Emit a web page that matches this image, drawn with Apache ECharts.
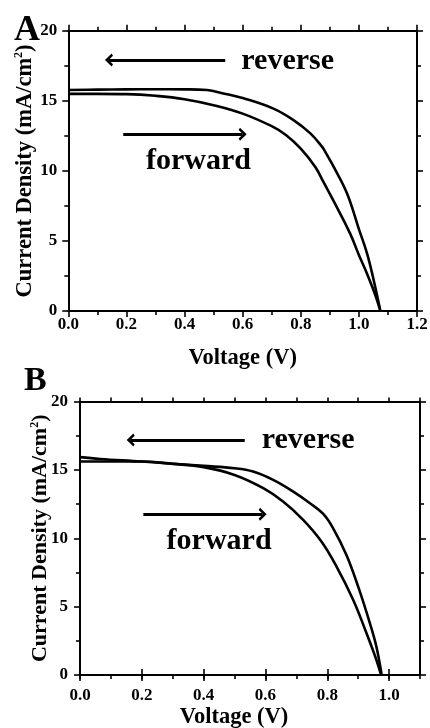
<!DOCTYPE html>
<html>
<head>
<meta charset="utf-8">
<script src="https://cdn.jsdelivr.net/npm/echarts@6/dist/echarts.min.js"></script>
<style>
html,body{margin:0;padding:0;background:#fff;}
#chart{width:430px;height:728px;}
</style>
</head>
<body>
<div id="chart"></div>
<script>
// ---------- Data ----------
const panelLetters = ['A', 'B'];
const xAxisTitle = 'Voltage (V)';
const yAxisTitle = 'Current Density (mA/cm{sup|2})';
const annotationTexts = ['reverse', 'forward'];

// Panel A
const A_rev_V = [0, 0.1, 0.2, 0.3, 0.4, 0.477, 0.534, 0.603, 0.704, 0.775, 0.833, 0.873, 0.884, 0.913, 0.959, 1.0, 1.028, 1.051, 1.074];
const A_rev_J = [15.77, 15.8, 15.82, 15.83, 15.82, 15.77, 15.53, 15.18, 14.46, 13.63, 12.68, 11.73, 11.37, 10.3, 8.4, 5.85, 4.12, 2.2, 0];
const A_fwd_V = [0, 0.1, 0.2, 0.3, 0.4, 0.5, 0.6, 0.7, 0.75, 0.8, 0.85, 0.878, 0.924, 0.97, 1.0, 1.028, 1.057, 1.074];
const A_fwd_J = [15.5, 15.5, 15.48, 15.36, 15.12, 14.69, 14.09, 13.19, 12.55, 11.59, 10.28, 9.21, 7.42, 5.52, 4.0, 2.66, 1.11, 0];
const A_xTicks = [0, 0.2, 0.4, 0.6, 0.8, 1.0, 1.2];
const A_yTicks = [0, 5, 10, 15, 20];
// annotation anchors [V, J]
const A_textPos = [[0.755, 17.81], [0.448, 10.67]];
const A_arrows = [[[0.54, 17.92], [0.14, 17.92]], [[0.189, 12.61], [0.600, 12.61]]];

// Panel B
const B_rev_V = [0, 0.065, 0.2, 0.4, 0.5, 0.56, 0.625, 0.69, 0.744, 0.787, 0.819, 0.862, 0.9, 0.938, 0.959, 0.976];
const B_rev_J = [15.93, 15.8, 15.61, 15.29, 15.12, 14.88, 14.27, 13.41, 12.56, 11.78, 10.73, 8.78, 6.46, 3.78, 2.07, 0];
const B_fwd_V = [0, 0.2, 0.3, 0.4, 0.5, 0.593, 0.657, 0.722, 0.781, 0.83, 0.884, 0.927, 0.959, 0.974];
const B_fwd_J = [15.61, 15.61, 15.44, 15.2, 14.63, 13.66, 12.68, 11.34, 9.76, 7.93, 5.49, 3.05, 1.1, 0];
const B_xTicks = [0, 0.2, 0.4, 0.6, 0.8, 1.0];
const B_yTicks = [0, 5, 10, 15, 20];
const B_textPos = [[0.738, 17.15], [0.45, 9.76]];
const B_arrows = [[[0.533, 17.18], [0.164, 17.18]], [[0.205, 11.75], [0.591, 11.75]]];

// ---------- Styling ----------
const FONT = '"Liberation Serif", "Times New Roman", serif';
const BLACK = '#000';
const chevron = 'path://M0,10 L10,0 L20,10 L16.5,12 L10,5.5 L3.5,12 Z';

function pairs(xs, ys) { return xs.map((x, i) => [x, ys[i]]); }

const axisLineStyle = { show: true, onZero: false, lineStyle: { color: BLACK, width: 2 } };
const tickStyle = { color: BLACK, width: 1.6 };
const labelStyle = { color: BLACK, fontFamily: FONT, fontWeight: 'bold', fontSize: 17 };
function nameStyle(size) {
  return {
    color: BLACK, fontFamily: FONT, fontWeight: 'bold', fontSize: size,
    rich: { sup: { fontSize: 12, fontFamily: FONT, fontWeight: 'bold', color: BLACK, verticalAlign: 'top', lineHeight: 12 } }
  };
}

function xFmt(v) {
  const k = Math.round(v * 10);
  return (Math.abs(v * 10 - k) < 1e-6 && k % 2 === 0) ? v.toFixed(1) : '';
}

const chart = echarts.init(document.getElementById('chart'), null, { renderer: 'canvas' });

const grids = [
  { left: 68.3, top: 30.8, width: 348.7, height: 280.2, containLabel: false, outerBoundsMode: 'none' },
  { left: 80, top: 401.5, width: 340, height: 273.5, containLabel: false, outerBoundsMode: 'none' }
];

const xAxes = [
  // Panel A bottom
  { gridIndex: 0, type: 'value', min: A_xTicks[0], max: A_xTicks[A_xTicks.length - 1], interval: 0.2, position: 'bottom',
    axisLine: axisLineStyle, splitLine: { show: false },
    axisTick: { show: true, inside: false, length: 6, lineStyle: tickStyle },
    minorTick: { show: true, splitNumber: 2, length: 4, lineStyle: tickStyle },
    axisLabel: Object.assign({ margin: 5, formatter: v => v.toFixed(1) }, labelStyle),
    name: xAxisTitle, nameLocation: 'middle', nameGap: 36, nameMoveOverlap: false, nameTextStyle: nameStyle(22.5) },
  // Panel A top
  { gridIndex: 0, type: 'value', min: A_xTicks[0], max: A_xTicks[A_xTicks.length - 1], interval: 0.2, position: 'top',
    axisLine: axisLineStyle, splitLine: { show: false },
    axisTick: { show: true, inside: false, length: 6, lineStyle: tickStyle },
    minorTick: { show: true, splitNumber: 2, length: 4, lineStyle: tickStyle },
    axisLabel: { show: false } },
  // Panel B bottom (minor ticks + line)
  { gridIndex: 1, type: 'value', min: 0, max: 1.1, interval: 0.1, position: 'bottom',
    axisLine: axisLineStyle, splitLine: { show: false },
    axisTick: { show: true, inside: false, length: 4, lineStyle: tickStyle },
    axisLabel: { show: false } },
  // Panel B bottom (major ticks + labels)
  { gridIndex: 1, type: 'value', min: 0, max: 1.1, interval: 0.2, position: 'bottom',
    axisLine: { show: false }, splitLine: { show: false },
    axisTick: { show: true, inside: false, length: 6, lineStyle: tickStyle, customValues: B_xTicks },
    axisLabel: Object.assign({ margin: 12, formatter: xFmt }, labelStyle),
    name: xAxisTitle, nameLocation: 'middle', nameGap: 31, nameMoveOverlap: false,
    nameTextStyle: Object.assign(nameStyle(22.5), { padding: [0, 32, 0, 0] }) },
  // Panel B top (minor)
  { gridIndex: 1, type: 'value', min: 0, max: 1.1, interval: 0.1, position: 'top',
    axisLine: axisLineStyle, splitLine: { show: false },
    axisTick: { show: true, inside: false, length: 4, lineStyle: tickStyle },
    axisLabel: { show: false } },
  // Panel B top (major)
  { gridIndex: 1, type: 'value', min: 0, max: 1.1, interval: 0.2, position: 'top',
    axisLine: { show: false }, splitLine: { show: false },
    axisTick: { show: true, inside: false, length: 6, lineStyle: tickStyle, customValues: B_xTicks },
    axisLabel: { show: false } }
];

function yAx(grid, pos, ticks, withLabels, margin, gap, nsize) {
  const a = { gridIndex: grid, type: 'value', min: ticks[0], max: ticks[ticks.length - 1], interval: 5, position: pos,
    axisLine: axisLineStyle, splitLine: { show: false },
    axisTick: { show: true, inside: false, length: 6, lineStyle: tickStyle },
    minorTick: { show: true, splitNumber: 2, length: 4, lineStyle: tickStyle },
    axisLabel: withLabels ? Object.assign({ margin: margin }, labelStyle) : { show: false } };
  if (withLabels) {
    a.name = yAxisTitle; a.nameLocation = 'middle'; a.nameGap = gap; a.nameMoveOverlap = false;
    a.nameTextStyle = nameStyle(nsize);
  }
  return a;
}
const yAxes = [
  yAx(0, 'left', A_yTicks, true, 11, 32, 22.5),
  yAx(0, 'right', A_yTicks, false),
  yAx(1, 'left', B_yTicks, true, 12, 29, 22),
  yAx(1, 'right', B_yTicks, false)
];

function curve(xi, yi, V, J, arrows) {
  const s = { type: 'line', xAxisIndex: xi, yAxisIndex: yi, data: pairs(V, J), showSymbol: false, symbol: 'none',
    smooth: 0.4, lineStyle: { color: BLACK, width: 2.6 }, silent: true, z: 3 };
  if (arrows) {
    s.markLine = { silent: true, symbol: ['none', chevron], symbolSize: [13, 8], animation: false,
      label: { show: false }, lineStyle: { color: BLACK, width: 3, type: 'solid', opacity: 1 },
      data: arrows.map(a => [{ coord: a[0] }, { coord: a[1] }]) };
  }
  return s;
}
function texts(xi, yi, pos) {
  return { type: 'scatter', xAxisIndex: xi, yAxisIndex: yi, symbolSize: 0, silent: true, z: 5,
    itemStyle: { opacity: 1 },
    data: pos.map((p, i) => [p[0], p[1], annotationTexts[i]]),
    label: { show: true, position: 'inside', formatter: p => p.data[2], color: '#000', opacity: 1,
      textBorderWidth: 0, fontFamily: FONT, fontWeight: 'bold', fontSize: 30 } };
}

chart.setOption({
  animation: false,
  backgroundColor: '#fff',
  title: [
    { text: panelLetters[0], left: 9, top: 8, textStyle: { fontFamily: FONT, fontWeight: 'bold', fontSize: 36, color: BLACK } },
    { text: panelLetters[1], left: 19, top: 359, textStyle: { fontFamily: FONT, fontWeight: 'bold', fontSize: 34, color: BLACK } }
  ],
  grid: grids,
  xAxis: xAxes,
  yAxis: yAxes,
  series: [
    curve(0, 0, A_rev_V, A_rev_J, A_arrows),
    curve(0, 0, A_fwd_V, A_fwd_J, null),
    texts(0, 0, A_textPos),
    curve(2, 2, B_rev_V, B_rev_J, B_arrows),
    curve(2, 2, B_fwd_V, B_fwd_J, null),
    texts(2, 2, B_textPos)
  ]
});
</script>
</body>
</html>
